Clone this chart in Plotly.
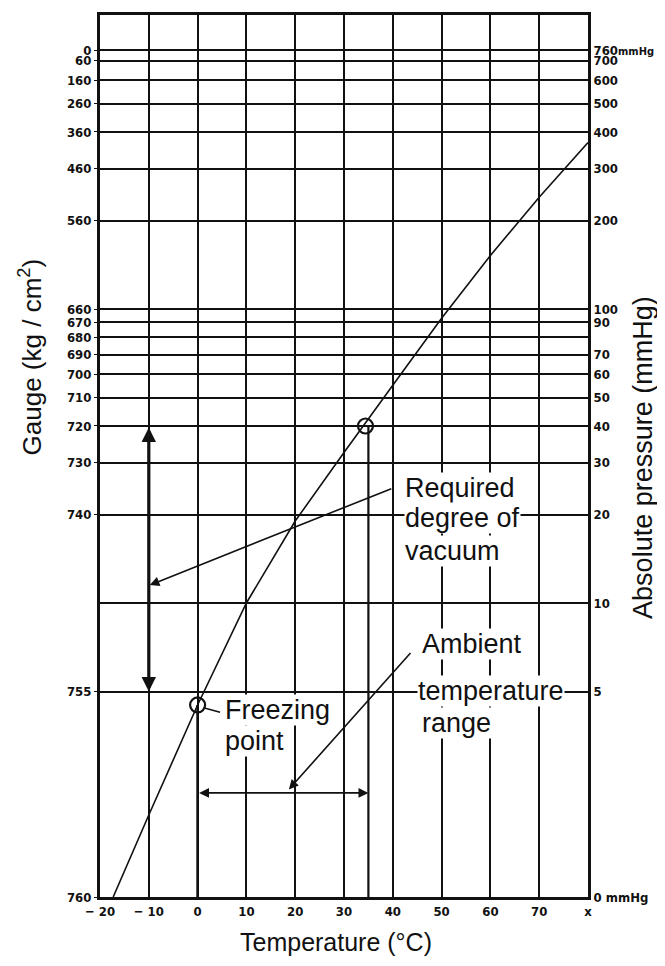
import math
import plotly.graph_objects as go

# ---------------- data ----------------
# vapour-pressure curve (temperature °C, absolute pressure mmHg)
curve_temp = [-17.3, -10, 0, 10, 20, 30, 40, 50, 60, 70, 80]
curve_press = [1.0, 1.9, 4.5, 10, 19, 32.5, 55, 93, 152, 240, 368]

# left scale: absolute-pressure positions (mmHg) carrying gauge labels; 1 mmHg is the bottom edge
gauge_press = [760, 700, 600, 500, 400, 300, 200, 100, 90, 80, 70, 60, 50, 40, 30, 20, 5, 1]
gauge_labels = ["0", "60", "160", "260", "360", "460", "560", "660", "670", "680",
                "690", "700", "710", "720", "730", "740", "755", "760"]
# right scale: absolute pressure (mmHg)
abs_press = [760, 700, 600, 500, 400, 300, 200, 100, 90, 70, 60, 50, 40, 30, 20, 10, 5, 1]
abs_labels = ["760<span style='font-size:11px'>mmHg</span>", "700", "600", "500", "400",
              "300", "200", "100", "90", "70", "60", "50", "40", "30", "20", "10", "5",
              "0 mmHg"]

temp_ticks = [-20, -10, 0, 10, 20, 30, 40, 50, 60, 70, 80]
temp_labels = ["\u2212 20", "\u2212 10", "0", "10", "20", "30", "40", "50", "60", "70", "x"]

# marked points
freeze_pt = (0, 4.5)
high_pt = (35, 40)
# required vacuum range at -10 °C (mmHg)
vac_x = -10
vac_range = [40, 5]
# ambient temperature range (°C) and its arrow level (mmHg)
amb_range = [0, 35]
amb_level = 2.26

BLACK = "#111111"
TICKFONT = dict(family="DejaVu Sans Condensed", size=13, color=BLACK, weight="bold")
SANS = "Liberation Sans, Arial, sans-serif"
TXT = dict(family=SANS, size=27, color=BLACK)
L = math.log10

# the page body adds an 8 px margin; size the figure so the page does not scroll
# and the plot area lands where the reference has it
PAGE_OFF = 8
FIG_W = 665 - PAGE_OFF
FIG_H = 966 - 2 * PAGE_OFF
PLOT_L, PLOT_R, PLOT_T, PLOT_B = 100, 588, 15, 897

fig = go.Figure()

# vapour pressure curve
fig.add_trace(go.Scatter(x=curve_temp, y=curve_press, mode="lines",
                         line=dict(color=BLACK, width=1.6), hoverinfo="skip"))
# vertical line at 35 °C from the marked point down
fig.add_trace(go.Scatter(x=[high_pt[0], high_pt[0]], y=[high_pt[1], 1], mode="lines",
                         line=dict(color=BLACK, width=2.2), hoverinfo="skip"))
# vertical line at 0 °C from freezing point down
fig.add_trace(go.Scatter(x=[freeze_pt[0], freeze_pt[0]], y=[freeze_pt[1], 1], mode="lines",
                         line=dict(color=BLACK, width=2.6), hoverinfo="skip"))
# leader line from freezing-point circle to label
fig.add_trace(go.Scatter(x=[1.2, 4.6], y=[4.4, 4.25], mode="lines",
                         line=dict(color=BLACK, width=1.5), hoverinfo="skip"))
# circles
fig.add_trace(go.Scatter(x=[freeze_pt[0], high_pt[0] - 0.6], y=[freeze_pt[1], high_pt[1]],
                         mode="markers",
                         marker=dict(symbol="circle-open", size=15, color=BLACK,
                                     line=dict(width=2.2, color=BLACK)),
                         hoverinfo="skip"))
# invisible trace that anchors the right-hand axis
fig.add_trace(go.Scatter(x=[curve_temp[0]], y=[curve_press[0]], yaxis="y2", mode="markers",
                         marker=dict(opacity=0), hoverinfo="skip"))

ann = []
# thick double arrow at -10 °C
ann.append(dict(x=vac_x, y=L(vac_range[1]), ax=vac_x, ay=L(vac_range[0]),
                xref="x", yref="y", axref="x", ayref="y", text="", showarrow=True,
                arrowhead=2, arrowsize=0.9, arrowwidth=3.2, arrowside="end+start",
                arrowcolor=BLACK))
# ambient range double arrow
ann.append(dict(x=amb_range[1], y=L(amb_level), ax=amb_range[0], ay=L(amb_level),
                xref="x", yref="y", axref="x", ayref="y", text="", showarrow=True,
                arrowhead=2, arrowsize=1.1, arrowwidth=1.8, arrowside="end+start",
                arrowcolor=BLACK))
# pointer from "Required degree of vacuum"
ann.append(dict(x=-9.8, y=1.061, ax=40.0, ay=1.391,
                xref="x", yref="y", axref="x", ayref="y", text="", showarrow=True,
                arrowhead=2, arrowsize=1.2, arrowwidth=1.6, arrowcolor=BLACK))
# pointer from "Ambient temperature range"
ann.append(dict(x=18.7, y=0.366, ax=43.9, ay=0.835,
                xref="x", yref="y", axref="x", ayref="y", text="", showarrow=True,
                arrowhead=2, arrowsize=1.2, arrowwidth=1.6, arrowcolor=BLACK))

def label(text, x, ly):
    ann.append(dict(x=x, y=ly, xref="x", yref="y", text=text, showarrow=False,
                    xanchor="left", yanchor="middle", font=TXT, bgcolor="white",
                    borderpad=0))

label("Required", 42.2, 1.392)
label("degree of", 42.2, 1.288)
label("vacuum", 42.2, 1.176)
label("Freezing", 5.4, 0.636)
label("point", 5.4, 0.531)
label("Ambient", 45.8, 0.862)
label("temperature", 44.9, 0.700)
label("range", 45.8, 0.592)

# axis titles
ann.append(dict(x=-0.143, y=0.612, xref="paper", yref="paper", showarrow=False,
                xanchor="center", yanchor="middle",
                text="Gauge (kg / cm<sup>2</sup>)", textangle=-90,
                font=dict(family=SANS, size=26, color=BLACK)))
ann.append(dict(x=1.113, y=0.498, xref="paper", yref="paper", showarrow=False,
                xanchor="center", yanchor="middle",
                text="Absolute pressure (mmHg)", textangle=-90,
                font=dict(family=SANS, size=27, color=BLACK)))
ann.append(dict(x=0.4836, y=-0.051, xref="paper", yref="paper", showarrow=False,
                xanchor="center", yanchor="middle",
                text="Temperature (°C)",
                font=dict(family=SANS, size=25, color=BLACK)))

GRID = dict(showgrid=True, gridcolor=BLACK, gridwidth=1.8, zeroline=False)

fig.update_layout(
    width=FIG_W, height=FIG_H,
    margin=dict(l=PLOT_L - PAGE_OFF, r=FIG_W + PAGE_OFF - PLOT_R,
                t=PLOT_T - PAGE_OFF, b=FIG_H + PAGE_OFF - PLOT_B, autoexpand=False),
    paper_bgcolor="white", plot_bgcolor="white",
    showlegend=False,
    annotations=ann,
    xaxis=dict(range=[-20, 80], tickvals=temp_ticks, ticktext=temp_labels, **GRID,
               showline=True, linecolor=BLACK, linewidth=3, mirror=True,
               ticks="", tickfont=TICKFONT, fixedrange=True, automargin=False),
    yaxis=dict(type="log", range=[0, 3], tickvals=gauge_press, ticktext=gauge_labels, **GRID,
               showline=True, linecolor=BLACK, linewidth=3, mirror=True,
               ticks="outside", ticklen=3, tickcolor=BLACK, tickfont=TICKFONT,
               fixedrange=True, automargin=False),
    yaxis2=dict(type="log", range=[0, 3], tickvals=abs_press, ticktext=abs_labels, **GRID,
                overlaying="y", side="right", showline=False,
                ticks="outside", ticklen=2, tickcolor=BLACK,
                tickfont=TICKFONT, fixedrange=True, automargin=False),
)

fig.write_html("out.html")
